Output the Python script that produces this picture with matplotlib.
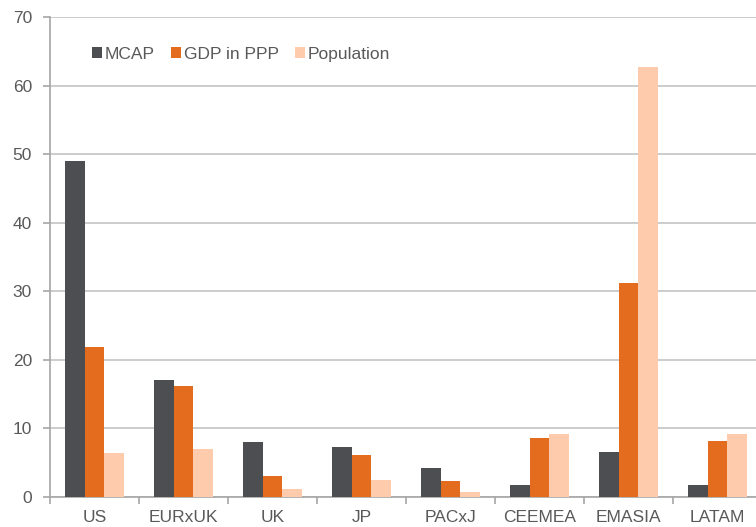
import matplotlib.pyplot as plt
import numpy as np

plt.rcParams['font.family'] = ['Liberation Sans', 'DejaVu Sans']

# regional shares, %
regions = ['US', 'EURxUK', 'UK', 'JP', 'PACxJ', 'CEEMEA', 'EMASIA', 'LATAM']
mcap = [49.0, 17.1, 8.0, 7.3, 4.3, 1.7, 6.5, 1.8]
gdp_ppp = [21.9, 16.2, 3.1, 6.1, 2.4, 8.6, 31.2, 8.1]
population = [6.4, 7.0, 1.2, 2.5, 0.7, 9.2, 62.7, 9.2]

fig = plt.figure(figsize=(7.56, 5.27), dpi=100)
ax = fig.add_axes([50 / 756, 30 / 527, 712 / 756, 480 / 527])

x = np.arange(len(regions)) + 0.5
w = 0.22
ax.bar(x - w, mcap, w, color='#4d4e52', label='MCAP', zorder=3)
ax.bar(x, gdp_ppp, w, color='#e36c1e', label='GDP in PPP', zorder=3)
ax.bar(x + w, population, w, color='#ffcbad', label='Population', zorder=3)

ax.set_xlim(0, len(regions))
ax.set_ylim(0, 70)
ax.set_yticks(range(0, 71, 10))
ax.yaxis.grid(True, color='#c4c4c4', linewidth=1.2)
ax.set_axisbelow(True)

ax.set_xticks(range(len(regions) + 1))
ax.set_xticklabels([])
ax.set_xticks(x, minor=True)
ax.set_xticklabels(regions, minor=True)
ax.tick_params(axis='x', which='minor', length=0, pad=9)
ax.tick_params(axis='x', which='major', length=5, color='#a6a6a6', width=1.2)
ax.tick_params(axis='y', length=5, color='#a6a6a6', width=1.2, pad=8)
ax.tick_params(labelsize=12.5, labelcolor='#595959', which='both')

for s in ['top', 'right']:
    ax.spines[s].set_visible(False)
for s in ['left', 'bottom']:
    ax.spines[s].set_color('#a6a6a6')
    ax.spines[s].set_linewidth(1.2)

ax.legend(loc='upper left', bbox_to_anchor=(0.037, 0.97), ncol=3, frameon=False,
          fontsize=12.5, labelcolor='#595959', handlelength=0.6, handleheight=0.6,
          handletextpad=0.15, columnspacing=0.92)

fig.savefig('out.png', dpi=100)
